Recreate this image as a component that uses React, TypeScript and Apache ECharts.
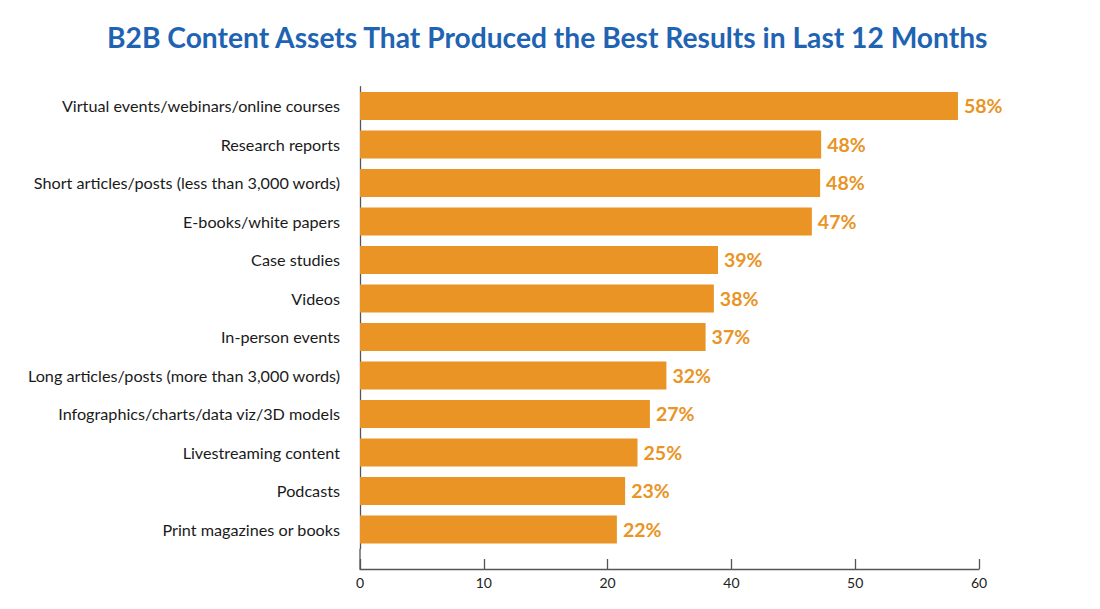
import React, { useEffect, useRef } from "react";
import * as echarts from "echarts";

const titleText = "B2B Content Assets That Produced the Best Results in Last 12 Months";

const categories = [
  "Virtual events/webinars/online courses",
  "Research reports",
  "Short articles/posts (less than 3,000 words)",
  "E-books/white papers",
  "Case studies",
  "Videos",
  "In-person events",
  "Long articles/posts (more than 3,000 words)",
  "Infographics/charts/data viz/3D models",
  "Livestreaming content",
  "Podcasts",
  "Print magazines or books",
];

// Percentages printed next to each bar
const percentages = [58, 48, 48, 47, 39, 38, 37, 32, 27, 25, 23, 22];

// Bar lengths as drawn in the reference, read against its (linear) x axis
const barLengths = [57.96, 44.7, 44.6, 43.8, 34.7, 34.3, 33.5, 29.7, 28.1, 26.9, 25.7, 24.9];

// Tick labels as printed on the reference's x axis (evenly spaced ticks)
const tickLabels = ["0", "10", "20", "40", "50", "60"];

const ORANGE = "#E99425";
const BLUE = "#1F63B3";

export default function App() {
  const ref = useRef<HTMLDivElement>(null);

  useEffect(() => {
    if (!ref.current) return;
    const chart = echarts.init(ref.current, undefined, { renderer: "svg" });
    const gridLeft = 360;
    const gridTop = 86.7;
    const gridBottomY = 548.7;
    const axisY = 569;
    chart.setOption({
      animation: false,
      backgroundColor: "#ffffff",
      title: {
        text: titleText,
        left: 102,
        top: 18,
        textStyle: {
          color: BLUE,
          fontSize: 28.2,
          fontWeight: "bold",
          fontFamily: "Lato",
        },
      },
      grid: {
        left: gridLeft,
        right: 121,
        top: gridTop,
        bottom: 609 - gridBottomY,
        containLabel: false,
      },
      xAxis: {
        type: "value",
        min: 0,
        max: 60,
        interval: 12,
        offset: axisY - gridBottomY,
        axisLine: { show: true, lineStyle: { color: "#555", width: 1.3 } },
        axisTick: { show: true, inside: true, length: 10, lineStyle: { color: "#555", width: 1.3 } },
        splitLine: { show: false },
        axisLabel: {
          color: "#222",
          fontSize: 14,
          fontFamily: "Lato",
          margin: 6,
          formatter: (v: number) => tickLabels[Math.round(v / 12)] ?? "",
        },
      },
      yAxis: {
        type: "category",
        data: categories,
        inverse: true,
        axisLine: { show: true, lineStyle: { color: "#555", width: 1.3 } },
        axisTick: { show: false },
        axisLabel: {
          color: "#1a1a1a",
          fontSize: 16.2,
          fontFamily: "Lato",
          margin: 20,
          padding: [0, 0, 3, 0],
        },
      },
      graphic: [
        {
          type: "line",
          shape: { x1: gridLeft, y1: gridBottomY, x2: gridLeft, y2: axisY },
          style: { stroke: "#555", lineWidth: 1.3 },
          z: 10,
        },
      ],
      series: [
        {
          type: "bar",
          data: barLengths,
          barWidth: 28,
          itemStyle: { color: ORANGE },
          label: {
            show: true,
            position: "right",
            distance: 6,
            color: ORANGE,
            fontSize: 19.5,
            fontWeight: "bold",
            fontFamily: "Lato",
            formatter: (p: any) => `${percentages[p.dataIndex]}%`,
          },
        },
      ],
    });
    return () => chart.dispose();
  }, []);

  return (
    <div
      ref={ref}
      style={{ position: "fixed", left: 0, top: 0, width: 1100, height: 609 }}
    />
  );
}
